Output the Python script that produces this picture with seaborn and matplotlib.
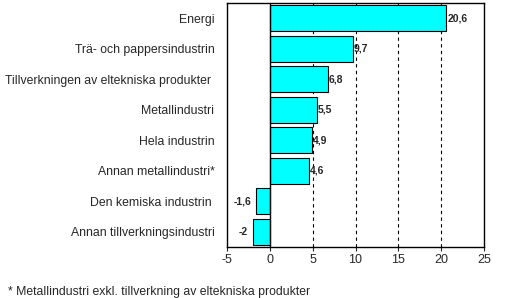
import matplotlib
matplotlib.use("Agg")
import matplotlib.pyplot as plt
import seaborn as sns
import pandas as pd

categories = ["Energi", "Trä- och pappersindustrin", "Tillverkningen av eltekniska produkter ",
              "Metallindustri", "Hela industrin", "Annan metallindustri*",
              "Den kemiska industrin ", "Annan tillverkningsindustri"]
values = [20.6, 9.7, 6.8, 5.5, 4.9, 4.6, -1.6, -2.0]
value_labels = ["20,6", "9,7", "6,8", "5,5", "4,9", "4,6", "-1,6", "-2"]
xticks = [-5, 0, 5, 10, 15, 20, 25]

sns.set_style("white")
plt.rcParams['font.family'] = ['Liberation Sans', 'DejaVu Sans']

df = pd.DataFrame({"cat": categories, "val": values})
fig = plt.figure(figsize=(5.32, 2.98), dpi=100)
ax = fig.add_axes([227/532, 1-247/298, (484-227)/532, (247-3)/298])
sns.barplot(data=df, x="val", y="cat", orient="h", color="#00FFFF", saturation=1,
            edgecolor="black", linewidth=0.8, width=0.86, ax=ax)
ax.set_xlim(-5, 25)
ax.set_xticks(xticks)
ax.set_xticklabels([str(t) for t in xticks], fontsize=9)
for g in [5, 10, 15, 20]:
    ax.axvline(g, color="black", linestyle=(0, (3, 3)), linewidth=0.8, zorder=0)
ax.axvline(0, color="black", linewidth=1, zorder=3)
ax.set_xlabel("")
ax.set_ylabel("")
ax.tick_params(axis="y", length=0, labelsize=8.8, pad=9)
ax.tick_params(axis="x", length=3, direction="out", bottom=True, pad=2)
for s in ax.spines.values():
    s.set_color("black")
    s.set_linewidth(1)
for i, (v, lab) in enumerate(zip(values, value_labels)):
    if v >= 0:
        ax.text(v + 0.1, i, lab, va="center", ha="left", fontsize=7.5, fontweight="bold")
    else:
        ax.text(v - 0.6, i, lab, va="center", ha="right", fontsize=7.5, fontweight="bold")
fig.text(8/532, 1-292/298, "* Metallindustri exkl. tillverkning av eltekniska produkter",
         fontsize=8.8, va="center", ha="left")
fig.savefig("out.png", dpi=100)
